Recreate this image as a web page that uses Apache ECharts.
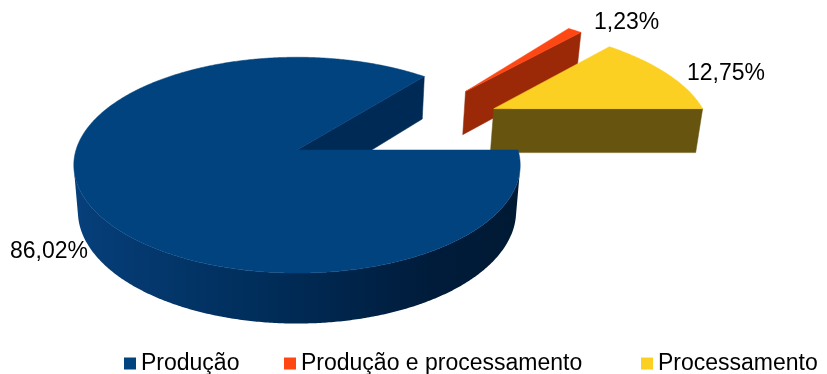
<!DOCTYPE html>
<html>
<head>
<meta charset="utf-8">
<script src="https://cdn.jsdelivr.net/npm/echarts@6/dist/echarts.min.js"></script>
<style>
html,body{margin:0;padding:0;background:#fff;}
#main{width:827px;height:374px;}
</style>
</head>
<body>
<div id="main"></div>
<script>
// ---- data ----
const categories = ['Produção', 'Produção e processamento', 'Processamento'];
const shares = [86.02, 1.23, 12.75];

// ---- layout / style (not data) ----
const topColors  = ['#00437f', '#ff4714', '#fcd023'];
const sideColors = ['#002a56', '#9b2807', '#66540f'];
const explode    = [[0, 0], [0.827, 0.600], [0.942, 0.4135]]; // world offsets (radius units)
const labelPos   = [[10, 252], [594, 23], [687, 74]];
const drawZ      = [4, 2, 3];
const legendLeft = [119, 279, 636];

// projection parameters
const CX = 297, CY = 150, DIST = 6.25, ELEV = 28.6 * Math.PI / 180, FOC = 221 * 6.25, HGT = 0.24;
const se = Math.sin(ELEV), ce = Math.cos(ELEV);
function proj(X, Z, h) {
  const yc = Z * se - h * ce;
  const dc = DIST + Z * ce + h * se;
  return [CX + FOC * X / dc, CY - FOC * yc / dc];
}
const camZ = -DIST * ce;

const total = shares.reduce((a, b) => a + b, 0);
function sliceAngles(i) {
  let before = 0;
  for (let k = 0; k < i; k++) before += shares[k];
  const a1 = 360 - before / total * 360;
  const a0 = 360 - (before + shares[i]) / total * 360;
  return [a0 * Math.PI / 180, a1 * Math.PI / 180];
}

function fmt(v) { return v.toFixed(2).replace('.', ',') + '%'; }

function makeRender(i) {
  return function (params, api) {
    const [a0, a1] = sliceAngles(i);
    const [ox, oz] = explode[i];
    const children = [];
    const step = 0.5 * Math.PI / 180;
    const angs = [];
    for (let t = a0; t < a1; t += step) angs.push(t);
    angs.push(a1);

    // outer wall (visible runs)
    const vis = angs.map(t => {
      const px = ox + Math.cos(t), pz = oz + Math.sin(t);
      return (-px) * Math.cos(t) + (camZ - pz) * Math.sin(t) > 0;
    });
    let run = [];
    const runs = [];
    for (let k = 0; k < angs.length; k++) {
      if (vis[k]) run.push(angs[k]);
      else { if (run.length > 1) runs.push(run); run = []; }
    }
    if (run.length > 1) runs.push(run);
    runs.forEach(r => {
      const pts = [];
      r.forEach(t => pts.push(proj(ox + Math.cos(t), oz + Math.sin(t), 0)));
      for (let k = r.length - 1; k >= 0; k--) pts.push(proj(ox + Math.cos(r[k]), oz + Math.sin(r[k]), HGT));
      let fill = sideColors[i];
      if (i === 0) {
        fill = {
          type: 'linear', x: 75, y: 0, x2: 518, y2: 0, global: true,
          colorStops: [
            { offset: 0, color: '#063f7a' },
            { offset: 0.45, color: '#002c58' },
            { offset: 0.8, color: '#001c3b' },
            { offset: 1, color: '#001a34' }
          ]
        };
      }
      children.push({ type: 'polygon', shape: { points: pts }, style: { fill: fill, stroke: null } });
    });

    // radial faces
    const faces = [
      { t: a0, n: [Math.sin(a0), -Math.cos(a0)] },
      { t: a1, n: [-Math.sin(a1), Math.cos(a1)] }
    ];
    faces.forEach(f => {
      const d = (-ox) * f.n[0] + (camZ - oz) * f.n[1];
      if (d > 0) {
        const ex = ox + Math.cos(f.t), ez = oz + Math.sin(f.t);
        const pts = [proj(ox, oz, 0), proj(ex, ez, 0), proj(ex, ez, HGT), proj(ox, oz, HGT)];
        children.push({ type: 'polygon', shape: { points: pts }, style: { fill: sideColors[i], stroke: sideColors[i], lineWidth: 0.5 } });
      }
    });

    // top face
    const tp = [proj(ox, oz, 0)];
    angs.forEach(t => tp.push(proj(ox + Math.cos(t), oz + Math.sin(t), 0)));
    children.push({ type: 'polygon', shape: { points: tp }, style: { fill: topColors[i], stroke: topColors[i], lineWidth: 0.5 } });

    // label
    children.push({
      type: 'text', x: labelPos[i][0], y: labelPos[i][1],
      style: {
        text: fmt(api.value(0)), fill: '#000',
        font: '23px "Liberation Sans", Arial, sans-serif',
        textAlign: 'left', textVerticalAlign: 'middle'
      }
    });
    return { type: 'group', children: children };
  };
}

const chart = echarts.init(document.getElementById('main'), null, { renderer: 'canvas' });
chart.setOption({
  animation: false,
  backgroundColor: '#fff',
  legend: categories.map((c, i) => ({
    data: [c], left: legendLeft[i], top: 347, icon: 'rect',
    itemWidth: 12, itemHeight: 12, selectedMode: false,
    textStyle: { fontSize: 23, fontFamily: '"Liberation Sans", Arial, sans-serif', color: '#000' }
  })),
  series: categories.map((c, i) => ({
    type: 'custom', name: c, coordinateSystem: 'none', z: drawZ[i],
    itemStyle: { color: topColors[i] },
    renderItem: makeRender(i),
    data: [[shares[i]]]
  }))
});
</script>
</body>
</html>
